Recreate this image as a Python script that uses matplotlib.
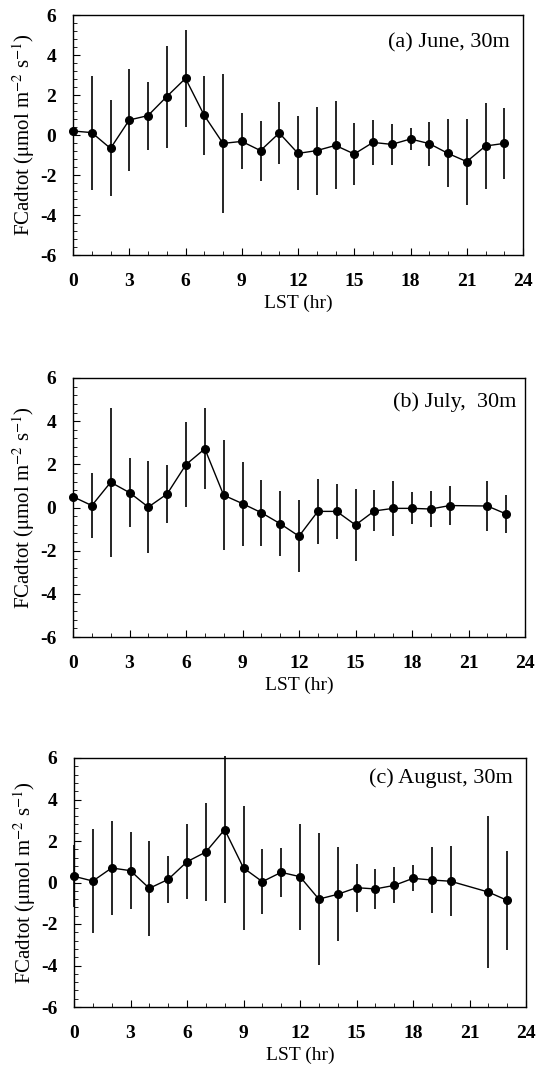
import numpy as np
import matplotlib

matplotlib.use("Agg")
import matplotlib.pyplot as plt
from matplotlib.ticker import MultipleLocator

plt.rcParams["font.family"] = ["Liberation Serif", "DejaVu Serif"]
plt.rcParams["mathtext.fontset"] = "stix"
plt.rcParams["axes.unicode_minus"] = False

# hourly means and error bars (LST, hr)
hours_june = list(range(24))
june_mean = [0.2, 0.12, -0.67, 0.75, 0.97, 1.92, 2.83, 0.98, -0.42, -0.32, -0.78, 0.1,
             -0.92, -0.78, -0.52, -0.95, -0.37, -0.47, -0.2, -0.43, -0.92, -1.33, -0.55, -0.42]
june_err = [0.0, 2.85, 2.4, 2.55, 1.7, 2.55, 2.42, 1.98, 3.48, 1.4, 1.5, 1.55,
            1.85, 2.2, 2.2, 1.53, 1.12, 1.03, 0.54, 1.1, 1.7, 2.15, 2.15, 1.77]

hours_july = list(range(21)) + [22, 23]
july_mean = [0.5, 0.09, 1.17, 0.69, 0.02, 0.63, 1.99, 2.72, 0.57, 0.18, -0.24, -0.75,
             -1.33, -0.18, -0.18, -0.81, -0.16, -0.04, -0.04, -0.07, 0.09, 0.07, -0.3]
july_err = [0.0, 1.5, 3.45, 1.6, 2.13, 1.33, 1.95, 1.87, 2.55, 1.95, 1.53, 1.52,
            1.66, 1.52, 1.26, 1.66, 0.95, 1.27, 0.74, 0.84, 0.92, 1.17, 0.89]

hours_aug = list(range(21)) + [22, 23]
aug_mean = [0.3, 0.07, 0.7, 0.57, -0.28, 0.15, 1.0, 1.47, 2.55, 0.7, 0.04, 0.49,
            0.28, -0.8, -0.57, -0.25, -0.31, -0.14, 0.2, 0.12, 0.06, -0.46, -0.86]
aug_err = [1.5, 2.5, 2.28, 1.85, 2.3, 1.13, 1.8, 2.35, 3.55, 3.0, 1.57, 1.18,
           2.56, 3.17, 2.27, 1.15, 0.95, 0.87, 0.63, 1.57, 1.68, 3.68, 2.4]

panel_labels = ["(a) June, 30m", "(b) July,  30m", "(c) August, 30m"]
x_ticks = [0, 3, 6, 9, 12, 15, 18, 21, 24]
y_ticks = [-6, -4, -2, 0, 2, 4, 6]

W, H = 539, 1083
fig = plt.figure(figsize=(W / 100, H / 100), dpi=100)

# axes boxes in pixels: (left, top, right, bottom)
boxes = [(73, 15, 523, 255), (73, 378, 525, 637), (74, 758, 526, 1007)]
label_pos = [(0.971, 0.883), (0.982, 0.907), (0.971, 0.92)]

panels = [
    (hours_june, june_mean, june_err),
    (hours_july, july_mean, july_err),
    (hours_aug, aug_mean, aug_err),
]

for (hrs, mean, err), box, text, pos in zip(panels, boxes, panel_labels, label_pos):
    l, t, r, b = box
    ax = fig.add_axes([l / W, 1 - b / H, (r - l) / W, (b - t) / H])
    ax.errorbar(hrs, mean, yerr=err, fmt="-o", color="black", lw=1.0,
                elinewidth=1.2, capsize=0, markersize=5.5, clip_on=False, zorder=3)
    ax.set_xlim(0, 24)
    ax.set_ylim(-6, 6)
    ax.set_xticks(x_ticks)
    ax.set_yticks(y_ticks)
    ax.xaxis.set_minor_locator(MultipleLocator(1))
    ax.yaxis.set_minor_locator(MultipleLocator(0.4))
    ax.tick_params(which="both", direction="in", top=False, right=False)
    ax.tick_params(which="major", length=5, labelsize=14)
    ax.tick_params(which="minor", length=3)
    ax.tick_params(axis="x", pad=13)
    ax.tick_params(axis="y", pad=12)
    for lab in ax.get_xticklabels() + ax.get_yticklabels():
        lab.set_fontweight("bold")
    for s in ax.spines.values():
        s.set_linewidth(1.0)
    ax.set_xlabel("LST (hr)", fontsize=14, labelpad=3)
    ax.set_ylabel(r"FCadtot ($\mathrm{\mu}$mol m$^{-2}$ s$^{-1}$)", fontsize=15, labelpad=2)
    ax.text(pos[0], pos[1], text, transform=ax.transAxes, ha="right", va="center",
            fontsize=16)

fig.savefig("out.png", dpi=100)
